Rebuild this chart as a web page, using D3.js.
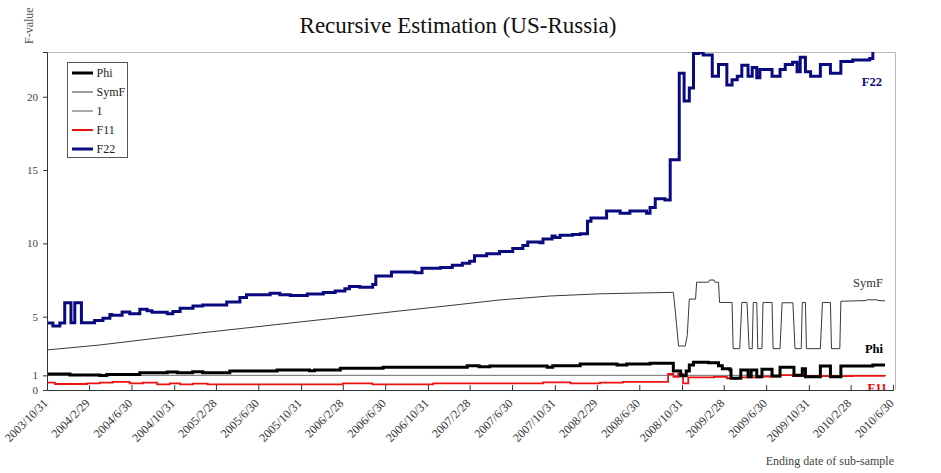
<!DOCTYPE html>
<html>
<head>
<meta charset="utf-8">
<script src="https://cdn.jsdelivr.net/npm/d3@7"></script>
<style>
  body { margin: 0; background: #fff; }
  svg { display: block; font-family: "Liberation Serif", "DejaVu Serif", serif; }
</style>
</head>
<body>
<svg id="chart" width="941" height="473"></svg>
<script>
// x tick labels (ending dates of sub-samples)
const tickLabels = ["2003/10/31", "2004/2/29", "2004/6/30", "2004/10/31", "2005/2/28", "2005/6/30",
  "2005/10/31", "2006/2/28", "2006/6/30", "2006/10/31", "2007/2/28", "2007/6/30", "2007/10/31",
  "2008/2/29", "2008/6/30", "2008/10/31", "2009/2/28", "2009/6/30", "2009/10/31", "2010/2/28", "2010/6/30"];
const yTicks = [0, 1, 5, 10, 15, 20];

// step series: [date where value starts, value]
const f22 = [
  ["2003-10-31", 4.57], ["2003-11-17", 4.36], ["2003-12-07", 4.57], ["2003-12-21", 5.95],
  ["2004-01-08", 4.59], ["2004-01-19", 5.95], ["2004-02-07", 4.59], ["2004-03-16", 4.74],
  ["2004-04-09", 4.9], ["2004-04-29", 5.15], ["2004-05-04", 5.1], ["2004-06-03", 5.32],
  ["2004-06-25", 5.2], ["2004-07-24", 5.5], ["2004-08-14", 5.4], ["2004-08-28", 5.3],
  ["2004-10-11", 5.2], ["2004-10-27", 5.35], ["2004-11-17", 5.57], ["2004-12-24", 5.73],
  ["2005-01-21", 5.8], ["2005-03-31", 6.0], ["2005-05-08", 6.3], ["2005-05-27", 6.5],
  ["2005-08-03", 6.6], ["2005-08-31", 6.5], ["2005-09-30", 6.45], ["2005-11-18", 6.55],
  ["2006-01-03", 6.65], ["2006-02-06", 6.75], ["2006-03-06", 6.9], ["2006-03-19", 7.05],
  ["2006-04-18", 7.0], ["2006-05-25", 7.2], ["2006-06-03", 7.77], ["2006-07-18", 8.05],
  ["2006-09-24", 8.0], ["2006-10-14", 8.3], ["2006-12-06", 8.35], ["2007-01-09", 8.5],
  ["2007-02-07", 8.65], ["2007-02-28", 8.78], ["2007-03-14", 9.15], ["2007-04-18", 9.3],
  ["2007-05-25", 9.45], ["2007-07-02", 9.65], ["2007-07-31", 9.85], ["2007-08-14", 10.1],
  ["2007-09-18", 10.05], ["2007-09-27", 10.3], ["2007-10-23", 10.5], ["2007-11-01", 10.4],
  ["2007-11-15", 10.55], ["2007-12-21", 10.6], ["2008-01-12", 10.65], ["2008-02-02", 11.5],
  ["2008-02-12", 11.73], ["2008-03-28", 12.2], ["2008-05-06", 12.05], ["2008-06-03", 12.2],
  ["2008-07-21", 12.05], ["2008-07-31", 12.45], ["2008-08-15", 13.05], ["2008-09-12", 12.95],
  ["2008-09-27", 15.7], ["2008-10-23", 21.6], ["2008-11-06", 19.7], ["2008-11-21", 20.6],
  ["2008-12-03", 22.95], ["2008-12-17", 23.0], ["2008-12-31", 22.85], ["2009-01-26", 21.4],
  ["2009-02-13", 22.2], ["2009-03-09", 20.8], ["2009-03-24", 21.15], ["2009-04-08", 21.4],
  ["2009-04-21", 22.15], ["2009-05-09", 21.4], ["2009-05-21", 22.0], ["2009-06-03", 21.3],
  ["2009-06-12", 21.85], ["2009-07-17", 21.4], ["2009-08-09", 21.85], ["2009-08-24", 22.2],
  ["2009-09-14", 22.35], ["2009-09-27", 21.7], ["2009-10-06", 22.7], ["2009-10-21", 21.7],
  ["2009-11-05", 21.4], ["2009-12-03", 22.2], ["2010-01-01", 21.6], ["2010-01-31", 22.4],
  ["2010-03-06", 22.5], ["2010-04-24", 22.6], ["2010-05-03", 23.6], ["2010-06-07", 23.6]
];

const phi = [
  ["2003-10-31", 1.09], ["2004-01-05", 1.03], ["2004-03-10", 1.02], ["2004-03-31", 0.99],
  ["2004-04-20", 1.06], ["2004-07-24", 1.17], ["2004-10-11", 1.22], ["2004-11-09", 1.17],
  ["2004-12-23", 1.25], ["2005-01-21", 1.18], ["2005-04-09", 1.3], ["2005-08-23", 1.36],
  ["2005-11-24", 1.31], ["2005-12-09", 1.36], ["2006-02-21", 1.48], ["2006-06-24", 1.55],
  ["2007-02-21", 1.66], ["2007-03-27", 1.58], ["2007-04-27", 1.63], ["2007-10-09", 1.56],
  ["2007-10-25", 1.66], ["2008-01-12", 1.77], ["2008-04-27", 1.7], ["2008-05-25", 1.77],
  ["2008-07-31", 1.82], ["2008-10-06", 1.3], ["2008-10-27", 0.98], ["2008-11-12", 1.3],
  ["2008-11-21", 1.7], ["2008-12-03", 1.9], ["2009-01-15", 1.85], ["2009-02-13", 1.65],
  ["2009-02-24", 1.45], ["2009-03-18", 1.36], ["2009-03-21", 0.8], ["2009-04-18", 1.36],
  ["2009-05-09", 0.9], ["2009-05-18", 1.36], ["2009-06-03", 0.9], ["2009-06-18", 1.42],
  ["2009-07-17", 0.95], ["2009-08-09", 1.55], ["2009-09-18", 1.0], ["2009-10-12", 1.45],
  ["2009-10-21", 0.9], ["2009-12-03", 1.64], ["2010-01-01", 0.9], ["2010-01-31", 1.64],
  ["2010-05-03", 1.7], ["2010-06-07", 1.7]
];

const f11 = [
  ["2003-10-31", 0.5], ["2003-11-23", 0.41], ["2004-02-23", 0.45], ["2004-03-31", 0.5],
  ["2004-05-07", 0.55], ["2004-06-25", 0.45], ["2004-08-02", 0.5], ["2004-09-12", 0.39],
  ["2004-10-18", 0.45], ["2004-11-17", 0.38], ["2004-12-24", 0.43], ["2005-02-04", 0.39],
  ["2006-02-28", 0.45], ["2006-05-24", 0.39], ["2006-11-15", 0.45], ["2007-09-27", 0.52],
  ["2007-12-15", 0.45], ["2008-03-09", 0.5], ["2008-05-14", 0.55], ["2008-09-21", 1.09],
  ["2008-10-06", 0.9], ["2008-10-20", 1.09], ["2008-11-03", 0.45], ["2008-11-18", 0.86],
  ["2009-01-31", 0.9], ["2009-03-09", 0.8], ["2009-04-15", 0.86], ["2009-06-12", 0.91],
  ["2009-08-09", 1.02], ["2009-09-15", 0.95], ["2010-03-06", 0.97], ["2010-06-07", 0.95]
];

// SymF: drawn as a plain polyline
const symF = [
  ["2003-10-31", 2.73], ["2004-03-31", 3.07], ["2004-08-22", 3.48], ["2005-01-14", 3.89],
  ["2005-06-06", 4.26], ["2005-10-28", 4.64], ["2006-03-20", 5.01], ["2006-08-11", 5.39],
  ["2007-01-03", 5.76], ["2007-05-25", 6.14], ["2007-10-17", 6.41], ["2008-03-09", 6.56],
  ["2008-10-06", 6.66], ["2008-10-12", 5.3], ["2008-10-21", 3.0], ["2008-11-09", 3.0],
  ["2008-11-15", 3.7], ["2008-11-21", 6.2], ["2008-12-09", 6.2], ["2008-12-12", 7.35],
  ["2009-01-15", 7.35], ["2009-01-18", 7.5], ["2009-01-31", 7.5], ["2009-02-03", 7.35],
  ["2009-02-13", 7.35], ["2009-02-16", 5.97], ["2009-03-24", 5.97], ["2009-03-27", 2.82],
  ["2009-04-15", 2.82], ["2009-04-21", 5.97], ["2009-05-06", 5.97], ["2009-05-12", 2.82],
  ["2009-05-21", 2.82], ["2009-05-24", 5.97], ["2009-06-03", 5.97], ["2009-06-06", 2.82],
  ["2009-06-18", 2.82], ["2009-06-21", 5.97], ["2009-07-17", 5.97], ["2009-07-20", 2.82],
  ["2009-08-09", 2.82], ["2009-08-15", 5.95], ["2009-09-15", 5.95], ["2009-09-21", 2.82],
  ["2009-10-09", 2.82], ["2009-10-12", 5.97], ["2009-10-21", 5.97], ["2009-10-24", 2.82],
  ["2009-12-03", 2.82], ["2009-12-09", 5.97], ["2010-01-01", 5.97], ["2010-01-04", 2.82],
  ["2010-01-28", 2.82], ["2010-01-31", 6.05], ["2010-04-13", 6.1], ["2010-04-16", 6.15],
  ["2010-05-15", 6.15], ["2010-05-18", 6.1], ["2010-06-07", 6.08]
];

const oneLine = [["2003-10-31", 1], ["2010-06-07", 1]];

const parse = d3.timeParse("%Y-%m-%d");
const parseTick = d3.timeParse("%Y/%m/%d");

const svg = d3.select("#chart");
const plotLeft = 47, plotRight = 895, plotTop = 52, plotBottom = 390;

const x = d3.scaleTime()
  .domain([parseTick(tickLabels[0]), parseTick(tickLabels[tickLabels.length - 1])])
  .range([47, 893]);
const y = d3.scaleLinear().domain([0, 23.05]).range([plotBottom, plotTop]);

svg.append("defs").append("clipPath").attr("id", "plot")
  .append("rect").attr("x", plotLeft).attr("y", plotTop)
  .attr("width", plotRight - plotLeft).attr("height", plotBottom - plotTop);

// frame: light top/right border
svg.append("path")
  .attr("d", `M${plotLeft},${plotTop + 0.5}H${plotRight + 0.5}V${plotBottom}`)
  .attr("fill", "none").attr("stroke", "#b8b8b8").attr("stroke-width", 1);

const stepLine = d3.line().x(d => x(parse(d[0]))).y(d => y(d[1])).curve(d3.curveStepAfter);
const plainLine = d3.line().x(d => x(parse(d[0]))).y(d => y(d[1]));

const g = svg.append("g").attr("clip-path", "url(#plot)");

g.append("path").attr("d", plainLine(oneLine))
  .attr("fill", "none").attr("stroke", "#6e6e6e").attr("stroke-width", 1);
g.append("path").attr("d", stepLine(f11))
  .attr("fill", "none").attr("stroke", "#ee1111").attr("stroke-width", 1.8);
g.append("path").attr("d", stepLine(phi))
  .attr("fill", "none").attr("stroke", "#000").attr("stroke-width", 3);
g.append("path").attr("d", plainLine(symF))
  .attr("fill", "none").attr("stroke", "#3a3a3a").attr("stroke-width", 1);
g.append("path").attr("d", stepLine(f22))
  .attr("fill", "none").attr("stroke", "#0a0a80").attr("stroke-width", 3);

// right-hand labels
g.append("text").attr("x", 882).attr("y", 86).attr("text-anchor", "end")
  .attr("font-size", 12.5).attr("font-weight", "bold").attr("fill", "#0a0a80").text("F22");
svg.append("text").attr("x", 883).attr("y", 287).attr("text-anchor", "end")
  .attr("font-size", 12.5).attr("fill", "#333").text("SymF");
svg.append("text").attr("x", 883).attr("y", 353).attr("text-anchor", "end")
  .attr("font-size", 12.5).attr("font-weight", "bold").attr("fill", "#000").text("Phi");
g.append("text").attr("x", 887).attr("y", 392).attr("text-anchor", "end")
  .attr("font-size", 12.5).attr("font-weight", "bold").attr("fill", "#e00").text("F11");

// y axis
const yAxis = svg.append("g").attr("transform", `translate(${plotLeft},0)`)
  .call(d3.axisLeft(y).tickValues(yTicks).tickSize(4).tickPadding(5).tickFormat(d3.format("d")));
yAxis.select(".domain").attr("stroke", "#333");
yAxis.selectAll(".tick line").attr("stroke", "#333");
yAxis.selectAll("text").attr("font-family", "Liberation Serif").attr("font-size", 11).attr("fill", "#444");

// x axis, ticks pointing into the plot
const xAxis = svg.append("g").attr("transform", `translate(0,${plotBottom})`)
  .call(d3.axisBottom(x).tickValues(tickLabels.map(parseTick)).tickSize(-5)
    .tickFormat((d, i) => tickLabels[i]));
xAxis.select(".domain").attr("stroke", "#333");
xAxis.selectAll(".tick line").attr("stroke", "#333");
xAxis.selectAll("text")
  .attr("font-family", "Liberation Serif").attr("font-size", 12).attr("fill", "#333")
  .attr("text-anchor", "end").attr("dy", null).attr("y", 0)
  .attr("transform", "translate(1,14) rotate(-45)");

// titles
svg.append("text").attr("x", 458).attr("y", 33).attr("text-anchor", "middle")
  .attr("font-size", 23).attr("fill", "#111").text("Recursive Estimation (US-Russia)");
svg.append("text").attr("transform", "translate(33,44) rotate(-90)")
  .attr("font-size", 12).attr("fill", "#555").text("F-value");
svg.append("text").attr("x", 894).attr("y", 465).attr("text-anchor", "end")
  .attr("font-size", 12).attr("fill", "#444").text("Ending date of sub-sample");

// legend
const legendItems = [
  { name: "Phi", color: "#000", width: 3 },
  { name: "SymF", color: "#3a3a3a", width: 1 },
  { name: "1", color: "#555", width: 1 },
  { name: "F11", color: "#ee1111", width: 2 },
  { name: "F22", color: "#0a0a80", width: 3 }
];
const legend = svg.append("g").attr("transform", "translate(67.5,62.5)");
legend.append("rect").attr("width", 60).attr("height", 95)
  .attr("fill", "#fff").attr("stroke", "#555").attr("stroke-width", 1);
const item = legend.selectAll("g.item").data(legendItems).enter().append("g")
  .attr("transform", (d, i) => `translate(0,${10.5 + i * 19})`);
item.append("line").attr("x1", 4.5).attr("x2", 25.5)
  .attr("stroke", d => d.color).attr("stroke-width", d => d.width);
item.append("text").attr("x", 29).attr("dy", "0.35em")
  .attr("font-size", 12).attr("fill", "#222").text(d => d.name);
</script>
</body>
</html>
